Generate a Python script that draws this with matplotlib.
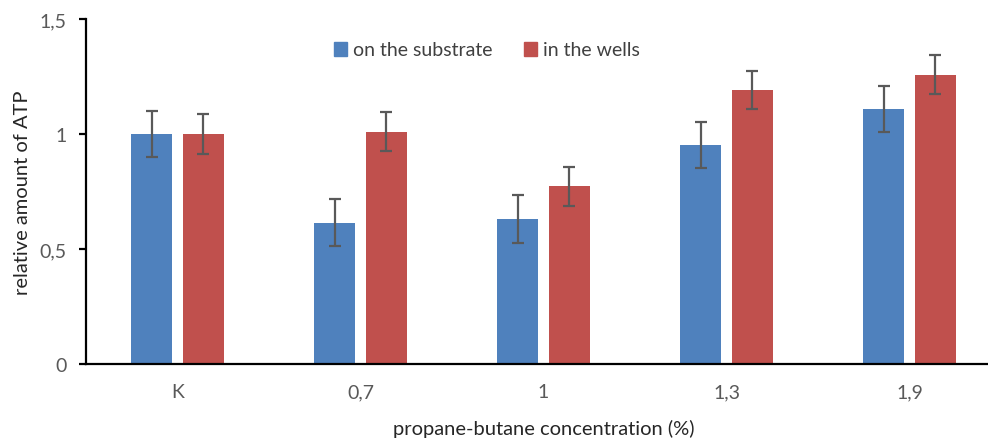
import numpy as np
import matplotlib
matplotlib.use("Agg")
import matplotlib.pyplot as plt
from matplotlib.patches import Patch

# ------------------------------------------------------------
# data
# ------------------------------------------------------------
categories = ["K", "0,7", "1", "1,3", "1,9"]
substrate = [1.00, 0.615, 0.63, 0.952, 1.109]
substrate_err = [0.098, 0.103, 0.103, 0.100, 0.100]
wells = [1.00, 1.010, 0.773, 1.190, 1.257]
wells_err = [0.085, 0.085, 0.085, 0.082, 0.085]
series_names = ["on the substrate", "in the wells"]

BLUE = "#4F81BD"
RED = "#C0504D"
TEXT = "#595959"

plt.rcParams["font.family"] = ["Lato", "DejaVu Sans"]

fig = plt.figure(figsize=(9.88, 4.39), dpi=100)
# axes runs slightly past the right border, like the cropped original
ax = fig.add_axes([86 / 988, (439 - 365) / 439, 915 / 988, 345 / 439])

x = np.arange(len(categories))
w = 0.224
off = 0.142
err_kw = dict(ecolor="#595959", elinewidth=1.6, capsize=4, capthick=1.6)

ax.bar(x - off, substrate, w, color=BLUE, yerr=substrate_err,
       error_kw=err_kw, zorder=2)
ax.bar(x + off, wells, w, color=RED, yerr=wells_err,
       error_kw=err_kw, zorder=2)

ax.set_xlim(-0.5, len(categories) - 0.5)
ax.set_ylim(0, 1.5)
ax.set_yticks([0, 0.5, 1, 1.5])
ax.set_yticklabels(["0", "0,5", "1", "1,5"])
ax.set_xticks(x)
ax.set_xticklabels(categories)

for s in ["top", "right"]:
    ax.spines[s].set_visible(False)
ax.spines["left"].set_linewidth(1.6)
ax.spines["bottom"].set_linewidth(1.6)
ax.tick_params(axis="y", length=5, width=1.6, labelsize=14,
               labelcolor=TEXT, pad=9)
ax.tick_params(axis="x", length=0, labelsize=14, labelcolor=TEXT, pad=14)

ax.set_ylabel("relative amount of ATP", fontsize=14.5, color="#262626",
              labelpad=6)
ax.set_xlabel("propane-butane concentration (%)", fontsize=14.5,
              color="#262626")
ax.xaxis.set_label_coords(0.5, -(429 - 365) / 345)
ax.xaxis.label.set_va("center")

handles = [Patch(color=BLUE), Patch(color=RED)]
fig.legend(handles, series_names, loc="center", bbox_to_anchor=(487 / 988, 1 - 51 / 439),
           ncol=2, frameon=False, fontsize=14, handlelength=0.7,
           handleheight=0.7, handletextpad=0.3, columnspacing=1.6,
           labelcolor="#404040")

fig.savefig("out.png", dpi=100)
